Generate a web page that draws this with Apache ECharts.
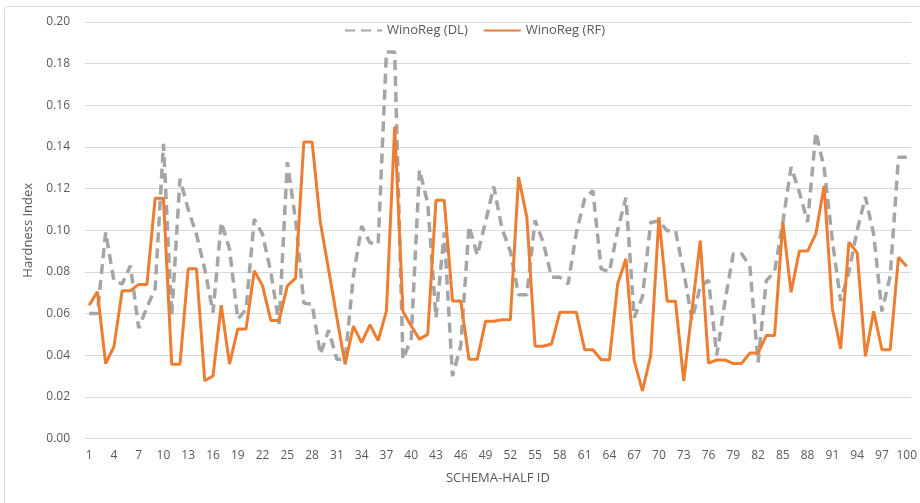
<!DOCTYPE html>
<html>
<head>
<meta charset="utf-8">
<script src="https://cdn.jsdelivr.net/npm/echarts@6/dist/echarts.min.js"></script>
<style>
html,body{margin:0;padding:0;background:#fff;}
#chart{width:920px;height:503px;}
</style>
</head>
<body>
<div id="chart"></div>
<script>
const categories = [];
for (let i = 1; i <= 100; i++) categories.push(String(i));

const winoRegDL = [
  0.060, 0.060, 0.099, 0.0758, 0.0742, 0.083, 0.053, 0.063, 0.072, 0.1415,
  0.059, 0.1247, 0.110, 0.098, 0.0814, 0.0605, 0.1038, 0.091, 0.0573, 0.062,
  0.1054, 0.098, 0.080, 0.055, 0.1327, 0.105, 0.065, 0.0645, 0.0405, 0.052,
  0.038, 0.038, 0.078, 0.102, 0.094, 0.0933, 0.1856, 0.1856, 0.038, 0.048,
  0.129, 0.113, 0.058, 0.099, 0.030, 0.0445, 0.102, 0.088, 0.104, 0.121,
  0.1007, 0.090, 0.069, 0.069, 0.1047, 0.094, 0.0774, 0.0774, 0.0742, 0.099,
  0.115, 0.119, 0.0815, 0.080, 0.100, 0.1157, 0.058, 0.068, 0.1037, 0.1045,
  0.0997, 0.0997, 0.080, 0.057, 0.073, 0.076, 0.040, 0.066, 0.0887, 0.0887,
  0.083, 0.0366, 0.0758, 0.080, 0.104, 0.1304, 0.1183, 0.104, 0.147, 0.130,
  0.095, 0.066, 0.080, 0.100, 0.116, 0.098, 0.061, 0.078, 0.135, 0.135
];

const winoRegRF = [
  0.064, 0.0705, 0.036, 0.044, 0.071, 0.071, 0.074, 0.074, 0.1154, 0.1154,
  0.0357, 0.0357, 0.0815, 0.0815, 0.0277, 0.030, 0.064, 0.0357, 0.0526, 0.0526,
  0.0806, 0.0733, 0.0567, 0.0567, 0.0733, 0.077, 0.1424, 0.1424, 0.1037, 0.081,
  0.058, 0.0357, 0.054, 0.046, 0.0546, 0.047, 0.0613, 0.1498, 0.061, 0.054,
  0.0477, 0.050, 0.1144, 0.1144, 0.066, 0.066, 0.038, 0.038, 0.0563, 0.0563,
  0.057, 0.057, 0.1255, 0.1063, 0.0443, 0.0443, 0.0454, 0.0606, 0.0606, 0.0606,
  0.0426, 0.0426, 0.0378, 0.0378, 0.0742, 0.0863, 0.0374, 0.0229, 0.0398, 0.1063,
  0.0659, 0.0659, 0.0277, 0.0615, 0.095, 0.0362, 0.0377, 0.0377, 0.036, 0.036,
  0.041, 0.041, 0.0494, 0.0494, 0.1039, 0.0702, 0.090, 0.090, 0.0983, 0.1212,
  0.0622, 0.043, 0.0943, 0.0891, 0.0394, 0.0611, 0.0426, 0.0426, 0.087, 0.0827
];

const yTicks = { min: 0, max: 0.2, interval: 0.02 };

const FONT = '"Open Sans", "Noto Sans", sans-serif';
const chart = echarts.init(document.getElementById('chart'), null, { renderer: 'canvas' });

chart.setOption({
  animation: false,
  backgroundColor: '#ffffff',
  graphic: [{
    type: 'rect',
    shape: { x: 4.5, y: 6.5, width: 1000, height: 600, r: 3 },
    style: { fill: 'none', stroke: '#d9d9d9', lineWidth: 1 },
    silent: true
  }],
  legend: {
    top: 19,
    left: 339,
    itemWidth: 37,
    itemHeight: 12,
    itemGap: 15,
    itemStyle: { opacity: 0 },
    textStyle: { color: '#595959', fontSize: 13, fontFamily: FONT },
    data: ['WinoReg (DL)', 'WinoReg (RF)']
  },
  grid: { left: 85, right: 8, top: 22, bottom: 64.5, containLabel: false },
  xAxis: {
    type: 'category',
    data: categories,
    boundaryGap: true,
    name: 'SCHEMA-HALF ID',
    nameLocation: 'middle',
    nameGap: 33,
    nameTextStyle: { color: '#595959', fontSize: 13, fontFamily: FONT },
    axisLine: { show: true, lineStyle: { color: '#d9d9d9', width: 1 } },
    axisTick: { show: false },
    axisLabel: { interval: 2, color: '#595959', fontSize: 12, fontFamily: FONT, margin: 11 },
    splitLine: { show: false }
  },
  yAxis: {
    type: 'value',
    min: yTicks.min,
    max: yTicks.max,
    interval: yTicks.interval,
    name: 'Hardness Index',
    nameLocation: 'middle',
    nameGap: 50,
    nameRotate: 90,
    nameTextStyle: { color: '#595959', fontSize: 13, fontFamily: FONT },
    axisLine: { show: false },
    axisTick: { show: false },
    axisLabel: { color: '#595959', fontSize: 12, fontFamily: FONT, margin: 15,
      formatter: v => v.toFixed(2) },
    splitLine: { show: true, lineStyle: { color: '#d9d9d9', width: 1 } }
  },
  series: [
    {
      name: 'WinoReg (DL)',
      type: 'line',
      data: winoRegDL,
      symbol: 'none',
      showSymbol: false,
      color: '#a5a5a5',
      lineStyle: { color: '#a5a5a5', width: 3.5, type: [10, 6], cap: 'butt' },
      z: 2
    },
    {
      name: 'WinoReg (RF)',
      type: 'line',
      data: winoRegRF,
      symbol: 'none',
      showSymbol: false,
      color: '#ed7d31',
      lineStyle: { color: '#ed7d31', width: 3 },
      z: 3
    }
  ]
});
</script>
</body>
</html>
